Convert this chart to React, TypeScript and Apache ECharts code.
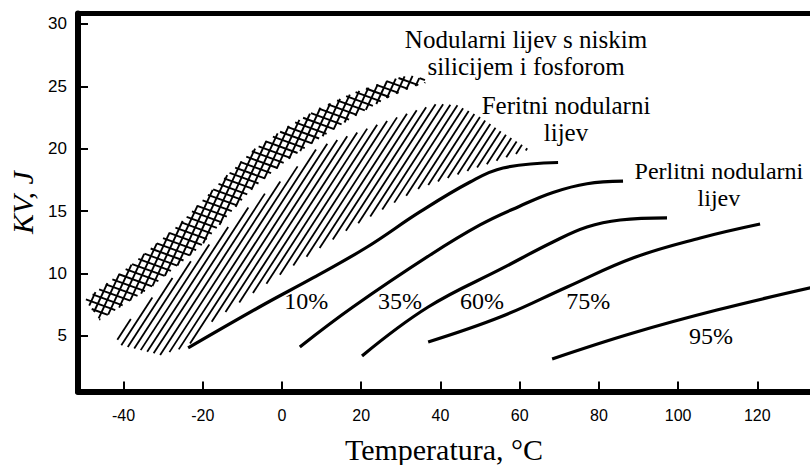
import React, { useEffect, useRef } from 'react';
import * as echarts from 'echarts';

// Axis ticks
const xTicks = [-40, -20, 0, 20, 40, 60, 80, 100, 120];
const yTicks = [5, 10, 15, 20, 25, 30];

// Curves: % pearlite
const line10 = [[-23.7, 4.04], [-4.8, 7.48], [7.8, 9.65], [21.5, 12.13], [34.8, 14.94], [47.5, 17.34], [55.8, 18.46], [69.7, 18.9]];
const line35 = [[4.5, 4.12], [17.9, 7.32], [37.4, 11.49], [50.0, 13.9], [60.0, 15.4], [68.4, 16.5], [77.0, 17.2], [86.1, 17.4]];
const line60 = [[20.2, 3.4], [36.9, 7.32], [55.8, 10.45], [68.4, 12.53], [77.0, 13.73], [85.4, 14.29], [97.2, 14.46]];
const line75 = [[36.9, 4.52], [55.1, 6.52], [72.0, 8.93], [88.6, 11.25], [105.6, 12.85], [120.7, 13.97]];
const line95 = [[68.2, 3.16], [88.6, 5.24], [109.8, 7.08], [134.0, 8.9]];

// Band: low Si & P nodular iron (cross-hatched)
const lowSiUpper = [[-49.7, 7.88], [-38.4, 10.61], [-25.8, 13.97], [-15.7, 17.3], [-7.3, 19.9], [1.3, 21.75], [9.6, 23.27], [18.0, 24.47], [26.5, 25.43], [32.3, 25.91], [36.1, 25.51]];
const lowSiLower = [[36.1, 25.27], [32.3, 24.87], [26.5, 24.07], [18.0, 22.55], [9.6, 20.87], [1.3, 19.1], [-7.3, 16.86], [-13.1, 14.86], [-20.7, 12.13], [-33.3, 8.85], [-46.0, 6.28]];

// Band: ferritic nodular iron (diagonal hatch)
const feritUpper = [[-42.2, 5.08], [-35.1, 7.32], [-30.1, 8.93], [-20.7, 11.65], [-14.9, 13.33], [-7.3, 15.66], [1.0, 17.74], [9.3, 20.14], [16.4, 21.0], [24.7, 22.0], [33.1, 23.0], [39.1, 23.6], [44.2, 23.5], [50.0, 22.55], [55.8, 21.27], [61.9, 20.06]];
const feritLower = [[61.9, 19.9], [47.5, 18.3], [34.8, 16.86], [26.0, 15.26], [17.2, 13.65], [3.8, 10.85], [-8.8, 8.13], [-18.9, 5.88], [-24.0, 4.12], [-30.8, 3.48], [-40.9, 4.28]];

// Text annotations
const annotTexts = ['Nodularni lijev s niskim\nsilicijem i fosforom', 'Feritni nodularni\nlijev', 'Perlitni nodularni\nlijev'];
const annotPos = [[61.6, 27.68], [71.7, 22.35], [110.3, 17.1]];
const annotSizes = [25, 25, 24];
const pctTexts = ['10%', '35%', '60%', '75%', '95%'];
const pctPos = [[6.1, 7.8], [29.8, 7.8], [50.5, 7.8], [77.3, 7.8], [108.3, 5.0]];

const serif = '"Liberation Serif", "Times New Roman", Times, serif';
const sans = '"Liberation Sans", Arial, Helvetica, sans-serif';

function hatchSeries(name: string, polygon: number[][], families: { angle: number; spacing: number }[], lw: number) {
  return {
    type: 'custom',
    name,
    silent: true,
    z: 1,
    data: [[0, 0]],
    renderItem: (_params: any, api: any) => {
      const pts = polygon.map((p) => api.coord(p));
      const children: any[] = [];
      families.forEach(({ angle, spacing }) => {
        const th = (angle * Math.PI) / 180;
        const d = [Math.cos(th), -Math.sin(th)];
        const n = [Math.sin(th), Math.cos(th)];
        const proj = pts.map((p: number[]) => p[0] * n[0] + p[1] * n[1]);
        const cmin = Math.min(...proj);
        const cmax = Math.max(...proj);
        for (let c = Math.ceil(cmin / spacing) * spacing; c <= cmax; c += spacing) {
          const o = [n[0] * c, n[1] * c];
          const ts: number[] = [];
          for (let i = 0; i < pts.length; i++) {
            const a = pts[i];
            const b = pts[(i + 1) % pts.length];
            const e = [b[0] - a[0], b[1] - a[1]];
            const den = d[0] * e[1] - d[1] * e[0];
            if (Math.abs(den) < 1e-9) continue;
            const ao = [a[0] - o[0], a[1] - o[1]];
            const t = (ao[0] * e[1] - ao[1] * e[0]) / den;
            const u = (ao[0] * d[1] - ao[1] * d[0]) / den;
            if (u >= 0 && u < 1) ts.push(t);
          }
          ts.sort((p, q) => p - q);
          for (let k = 0; k + 1 < ts.length; k += 2) {
            children.push({
              type: 'line',
              shape: {
                x1: o[0] + d[0] * ts[k],
                y1: o[1] + d[1] * ts[k],
                x2: o[0] + d[0] * ts[k + 1],
                y2: o[1] + d[1] * ts[k + 1],
              },
              style: { stroke: '#000', lineWidth: lw },
            });
          }
        }
      });
      return { type: 'group', children };
    },
  };
}

function curve(data: number[][]) {
  return {
    type: 'line',
    data,
    smooth: 0.4,
    symbol: 'none',
    silent: true,
    z: 3,
    lineStyle: { color: '#000', width: 3.2 },
  };
}

export default function App() {
  const ref = useRef<HTMLDivElement>(null);
  useEffect(() => {
    const chart = echarts.init(ref.current!, null, { renderer: 'svg' });
    const xMin = -51.5;
    const xMax = 133.3;
    chart.setOption({
      animation: false,
      backgroundColor: '#fff',
      grid: { left: 78, right: 0, top: 13.5, bottom: 73.5, outerBoundsMode: 'none' },
      xAxis: [
        {
          type: 'value',
          min: xMin,
          max: xMax,
          position: 'bottom',
          axisLine: { show: true, onZero: false, lineStyle: { color: '#000', width: 6 } },
          axisTick: { show: true, inside: true, length: 10, customValues: xTicks, lineStyle: { color: '#000', width: 2 } },
          axisLabel: { customValues: xTicks, margin: 16, fontSize: 16, fontFamily: sans, color: '#000' },
          splitLine: { show: false },
          name: 'Temperatura, °C',
          nameLocation: 'middle',
          nameGap: 43,
          nameTextStyle: { fontFamily: serif, fontSize: 30, color: '#000' },
        },
        {
          type: 'value',
          min: xMin,
          max: xMax,
          position: 'top',
          axisLine: { show: true, onZero: false, lineStyle: { color: '#000', width: 5 } },
          axisTick: { show: false },
          axisLabel: { show: false },
          splitLine: { show: false },
        },
      ],
      yAxis: {
        type: 'value',
        min: 0.55,
        max: 30.84,
        axisLine: { show: true, onZero: false, lineStyle: { color: '#000', width: 6 } },
        axisTick: { show: true, inside: true, length: 10, customValues: yTicks, lineStyle: { color: '#000', width: 2 } },
        axisLabel: { customValues: yTicks, margin: 11, fontSize: 17, fontFamily: sans, color: '#000' },
        splitLine: { show: false },
        name: 'KV, J',
        nameLocation: 'middle',
        nameRotate: 90,
        nameGap: 36,
        nameTextStyle: { fontFamily: serif, fontStyle: 'italic', fontSize: 30, color: '#000' },
      },
      series: [
        hatchSeries('Nodularni lijev s niskim silicijem i fosforom', [...lowSiUpper, ...lowSiLower], [
          { angle: 65, spacing: 7 },
          { angle: -20, spacing: 7 },
        ], 1.9),
        hatchSeries('Feritni nodularni lijev', [...feritUpper, ...feritLower], [{ angle: 57, spacing: 6.3 }], 1.8),
        curve(line10),
        curve(line35),
        curve(line60),
        curve(line75),
        curve(line95),
        {
          type: 'scatter',
          symbolSize: 1,
          silent: true,
          z: 5,
          itemStyle: { color: 'rgba(0,0,0,0)', opacity: 1 },
          data: annotTexts.map((t, i) => ({ name: t, value: annotPos[i], label: { fontSize: annotSizes[i] } })),
          label: { show: true, position: 'inside', formatter: '{b}', fontFamily: serif, fontSize: 25, lineHeight: 27, color: '#000', opacity: 1, align: 'center' },
        },
        {
          type: 'scatter',
          symbolSize: 1,
          silent: true,
          z: 5,
          itemStyle: { color: 'rgba(0,0,0,0)', opacity: 1 },
          data: pctTexts.map((t, i) => ({ name: t, value: pctPos[i] })),
          label: { show: true, position: 'inside', formatter: '{b}', fontFamily: serif, fontSize: 24, color: '#000', opacity: 1, align: 'center' },
        },
      ],
    });
    return () => chart.dispose();
  }, []);
  return <div ref={ref} style={{ position: 'fixed', left: 0, top: 0, width: 810, height: 465, background: '#fff' }} />;
}
